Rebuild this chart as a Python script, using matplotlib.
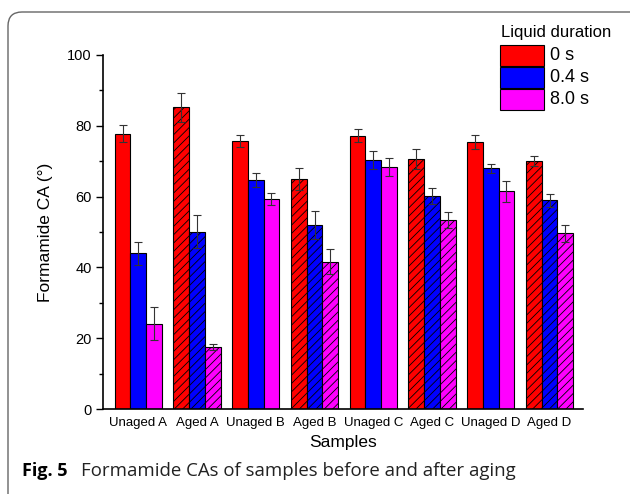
import matplotlib
matplotlib.use("Agg")
import matplotlib.pyplot as plt
import matplotlib.patches as mpatches
import numpy as np

# Datos
muestras = ["Unaged A", "Aged A", "Unaged B", "Aged B",
            "Unaged C", "Aged C", "Unaged D", "Aged D"]
envejecida = [False, True, False, True, False, True, False, True]

ca_0s = [77.8, 85.2, 75.7, 64.9, 77.2, 70.7, 75.4, 70.1]
ca_04s = [44.0, 50.1, 64.6, 51.9, 70.4, 60.2, 68.0, 58.9]
ca_8s = [24.1, 17.6, 59.4, 41.6, 68.4, 53.4, 61.5, 49.6]

err_0s = [2.4, 4.2, 1.8, 3.1, 1.8, 2.8, 2.0, 1.5]
err_04s = [3.3, 4.6, 2.0, 3.9, 2.6, 2.3, 1.3, 1.7]
err_8s = [4.6, 0.8, 1.7, 3.6, 2.6, 2.2, 2.9, 2.4]

etiquetas = ["0 s", "0.4 s", "8.0 s"]
colores = ["#ff0000", "#0000ff", "#ff00ff"]

plt.rcParams["font.family"] = ["Liberation Sans", "DejaVu Sans"]
plt.rcParams["hatch.linewidth"] = 0.6

fig = plt.figure(figsize=(6.3, 4.94), dpi=100)
ax = fig.add_axes([103 / 630, 85 / 494, 480 / 630, 354 / 494])

x = np.arange(len(muestras))
ancho = 0.267
series = [(ca_0s, err_0s), (ca_04s, err_04s), (ca_8s, err_8s)]

for k, (vals, errs) in enumerate(series):
    pos = x + (k - 1) * ancho
    barras = ax.bar(pos, vals, width=ancho, color=colores[k],
                    edgecolor="black", linewidth=0.8, zorder=2)
    # las muestras envejecidas llevan rayado
    for b, env in zip(barras, envejecida):
        if env:
            b.set_hatch("////")
    ax.errorbar(pos, vals, yerr=errs, fmt="none", ecolor="#333333",
                elinewidth=0.8, capsize=3, capthick=0.8, zorder=3)

ax.set_xlim(-0.6, 7.57)
ax.set_ylim(0, 100)
ax.set_xticks(x)
ax.set_xticklabels(muestras, fontsize=9.5)
ax.tick_params(axis="x", length=0, pad=6)
ax.set_yticks(np.arange(0, 101, 20))
ax.set_yticks(np.arange(10, 100, 20), minor=True)
ax.tick_params(axis="y", which="major", length=5, width=1, labelsize=10.5, pad=3)
ax.tick_params(axis="y", which="minor", length=3, width=1)
for s in ["top", "right"]:
    ax.spines[s].set_visible(False)
ax.spines["left"].set_linewidth(1.2)
ax.spines["bottom"].set_linewidth(1.2)

ax.set_xlabel("Samples", fontsize=12.5, labelpad=4)
ax.set_ylabel("Formamide CA (°)", fontsize=12.5, labelpad=10)

# Leyenda manual
fig.text(501 / 630, 1 - 33 / 494, "Liquid duration", fontsize=12, va="center")
for k in range(3):
    y0 = 494 - 66 - k * 22
    fig.patches.append(mpatches.Rectangle((500 / 630, y0 / 494), 44 / 630, 21 / 494,
                                          transform=fig.transFigure,
                                          facecolor=colores[k], edgecolor="black",
                                          linewidth=0.8))
    fig.text(550 / 630, (y0 + 10.5) / 494, etiquetas[k], fontsize=13, va="center")

# Marco redondeado
marco = mpatches.FancyBboxPatch((8, -60), 700, 542, transform=None,
                                boxstyle="round,pad=0,rounding_size=14",
                                facecolor="none", edgecolor="#666666", linewidth=1)
fig.patches.append(marco)

# Pie de figura
fig.text(22 / 630, 1 - 471 / 494, "Fig. 5", fontsize=13, fontweight="bold",
         family="Open Sans", va="center")
fig.text(81 / 630, 1 - 471 / 494, "Formamide CAs of samples before and after aging",
         fontsize=13.4, family="Open Sans", va="center", color="#222222")

fig.savefig("out.png", dpi=100)
